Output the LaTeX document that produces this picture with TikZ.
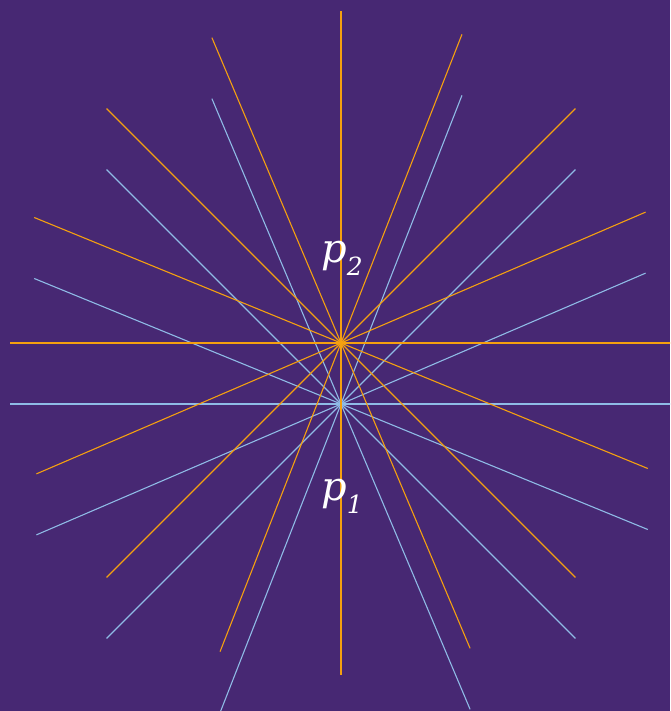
\documentclass[tikz,border=0pt]{standalone}
\usepackage{fontspec}
\setmainfont{DejaVu Serif}
\usetikzlibrary{calc}
\definecolor{bg}{HTML}{472873}
\definecolor{orng}{HTML}{F5A010}
\definecolor{lblue}{HTML}{8FBBE6}
\begin{document}
\begin{tikzpicture}[x=1pt,y=-1pt,
  ray/.style={line width=1.1pt},
  lbl/.style={text=white,inner sep=0pt,anchor=base west,font=\fontsize{40}{40}\selectfont\itshape}]
\fill[bg] (0,0) rectangle (670,711);
\useasboundingbox (0,0) rectangle (670,711);
\begin{scope}
\clip (0,0) rectangle (670,711);
\coordinate (p1) at (341,404);
\coordinate (p2) at (341,343);
% image angles (clockwise, y down) of the lines
\foreach \a in {0,22.25,45,67.08,111.4,135,156.75}{
  \draw[ray,lblue] ($(p1)+(\a:331.5)$) -- ($(p1)+(\a+180:331.5)$);
}
\foreach \a in {0,22.25,45,67.08,90,111.4,135,156.75}{
  \draw[ray,orng] ($(p2)+(\a:331.5)$) -- ($(p2)+(\a+180:331.5)$);
}
\end{scope}
\node[lbl] (l2) at (321,262) {p\raisebox{-13pt}{\fontsize{25}{25}\selectfont 2}};
\node[lbl] (l1) at (321,500) {p\raisebox{-13pt}{\fontsize{25}{25}\selectfont 1}};
\end{tikzpicture}
\end{document}
